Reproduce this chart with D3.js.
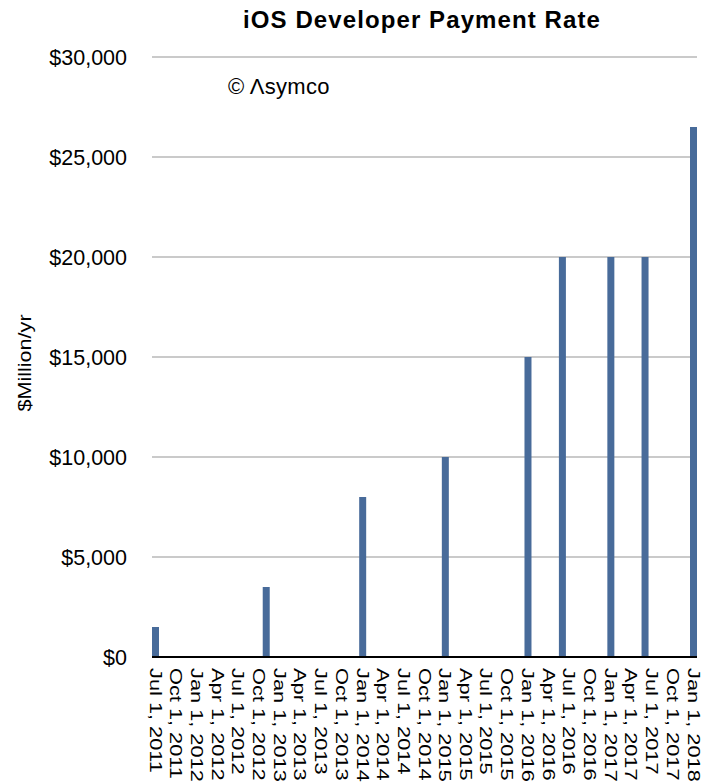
<!DOCTYPE html>
<html>
  <head>
    <title>iOS Developer Payment Rate</title>
    <meta charset="utf-8" />
    <style>
      body { margin: 0; background: #fff; }
      text { font-family: "Liberation Sans", Arial, sans-serif; }
    </style>
  </head>
  <body>
    <div id="plot"></div>

    <script src="https://d3js.org/d3.v7.min.js"></script>
    <script>
      // Bars sit on a date axis (quarterly ticks), values in $M per year
      const barDates = ["2011-07-01", "2012-11-01", "2014-01-01", "2015-01-01", "2016-01-01",
                        "2016-06-01", "2017-01-01", "2017-06-01", "2018-01-01"];
      const barValues = [1500, 3500, 8000, 10000, 15000, 20000, 20000, 20000, 26500];
      const yTicks = [0, 5000, 10000, 15000, 20000, 25000, 30000];
      const tickStart = "2011-07-01", tickEnd = "2018-01-01";

      const width = 701, height = 784;
      const parse = d3.utcParse("%Y-%m-%d");
      const data = barDates.map((d, i) => ({ date: parse(d), value: barValues[i] }));

      const svg = d3.select("#plot")
        .append("svg")
        .attr("width", width)
        .attr("height", height);

      const barW = 7;
      const plotLeft = 152, plotRight = 697, plotTop = 57, plotBottom = 657;

      // x: time scale, bars centred on their dates
      const x = d3.scaleUtc()
        .domain([parse(tickStart), parse(tickEnd)])
        .range([plotLeft + barW / 2, plotRight - barW / 2]);

      const y = d3.scaleLinear()
        .domain([0, 30000])
        .range([plotBottom, plotTop]);

      // gridlines
      svg.append("g")
        .selectAll("line")
        .data(yTicks.filter(d => d > 0))
        .join("line")
        .attr("x1", plotLeft)
        .attr("x2", plotRight)
        .attr("y1", d => y(d))
        .attr("y2", d => y(d))
        .attr("stroke", "#b9b9b9")
        .attr("stroke-width", 1.5);

      // y axis labels
      const yAxis = svg.append("g")
        .attr("transform", `translate(${plotLeft}, 0)`)
        .call(d3.axisLeft(y).tickValues(yTicks)
          .tickFormat(d => "$" + d3.format(",")(d))
          .tickSize(0).tickPadding(25));
      yAxis.select(".domain").remove();
      yAxis.selectAll("text")
        .attr("font-size", 21.5)
        .attr("fill", "#000")
        .attr("dy", "0.36em")
        .style("font-family", "'Liberation Sans', Arial, sans-serif");

      // bars
      svg.append("g")
        .selectAll("rect")
        .data(data)
        .join("rect")
        .attr("x", d => x(d.date) - barW / 2)
        .attr("y", d => y(d.value))
        .attr("width", barW)
        .attr("height", d => y(0) - y(d.value))
        .attr("fill", "#486b9a");

      // x axis, quarterly ticks
      const quarters = d3.utcMonth.every(3).range(parse(tickStart), d3.utcDay.offset(parse(tickEnd), 1));
      const xAxis = svg.append("g")
        .attr("transform", `translate(0, ${plotBottom})`)
        .call(d3.axisBottom(x).tickValues(quarters)
          .tickFormat(d3.utcFormat("%b %-d, %Y"))
          .tickSize(0));
      xAxis.select(".domain").remove();
      xAxis.selectAll("text")
        .attr("font-size", 16.5)
        .attr("fill", "#000")
        .attr("text-anchor", "start")
        .attr("dy", null)
        .attr("y", 0)
        .attr("transform", "translate(-6.5, 11) rotate(90) scale(1.32, 1)")
        .style("font-family", "'Liberation Sans', Arial, sans-serif");

      // baseline
      svg.append("line")
        .attr("x1", plotLeft)
        .attr("x2", plotRight)
        .attr("y1", y(0))
        .attr("y2", y(0))
        .attr("stroke", "#000")
        .attr("stroke-width", 2);

      // title
      svg.append("text")
        .attr("x", 422)
        .attr("y", 28)
        .attr("text-anchor", "middle")
        .attr("font-size", 24)
        .attr("font-weight", "bold")
        .attr("letter-spacing", 1.1)
        .text("iOS Developer Payment Rate");

      // copyright note
      svg.append("text")
        .attr("x", 228)
        .attr("y", 94)
        .attr("font-size", 22)
        .attr("letter-spacing", 0.3)
        .text("© Λsymco");

      // y axis title
      svg.append("text")
        .attr("transform", "translate(31, 363) rotate(-90) scale(1.2, 1)")
        .attr("text-anchor", "middle")
        .attr("font-size", 18)
        .text("$Million/yr");
    </script>
  </body>
</html>
